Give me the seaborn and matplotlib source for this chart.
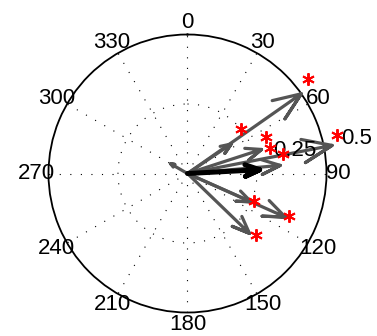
import numpy as np
import pandas as pd
import matplotlib
matplotlib.use("Agg")
import matplotlib.pyplot as plt
import matplotlib.transforms as mtransforms
import seaborn as sns

# ---- data (compass angles in degrees, clockwise from north) ----
angle_ticks = [0, 30, 60, 90, 120, 150, 180, 210, 240, 270, 300, 330]
angle_labels = ["0", "30", "60", "90", "120", "150", "180", "210", "240", "270", "300", "330"]

gray_theta = [55, 56, 72, 79, 85, 114, 114, 134, 300]
gray_r = [0.50, 0.19, 0.28, 0.53, 0.335, 0.25, 0.385, 0.31, 0.07]

black_theta = [87]
black_r = [0.26]

star_theta = [52, 50, 65, 73, 78.5, 75.5, 112, 113, 132]
star_r = [0.55, 0.25, 0.31, 0.31, 0.35, 0.555, 0.26, 0.395, 0.33]

radial_ticks = [0.25, 0.5]
radial_labels = ["0.25", "0.5"]
r_max = 0.5


def arrow_frame(thetas, rs):
    rows = []
    for k, (t, r) in enumerate(zip(thetas, rs)):
        z = r * np.exp(1j * np.deg2rad(t))
        pts = [z * 1e-9, z, z * (0.8 + 0.08j), z, z * (0.8 - 0.08j)]
        for order, p in enumerate(pts):
            rows.append({"arrow": k, "order": order,
                         "theta": np.angle(p), "r": np.abs(p)})
    return pd.DataFrame(rows)


sns.set_theme(style="white")
plt.rcParams["font.family"] = ["Liberation Sans", "DejaVu Sans"]

fig = plt.figure(figsize=(3.77, 3.36), dpi=100)
ax = fig.add_axes([0.1286, 0.0699, 0.7374, 0.8274], projection="polar")
ax.set_theta_zero_location("N")
ax.set_theta_direction(-1)
ax.set_facecolor("white")

gray_df = arrow_frame(gray_theta, gray_r)
black_df = arrow_frame(black_theta, black_r)

sns.lineplot(data=gray_df, x="theta", y="r", units="arrow", estimator=None,
             sort=False, color="#555555", linewidth=2.3, ax=ax, clip_on=False,
             zorder=3)
sns.lineplot(data=black_df, x="theta", y="r", units="arrow", estimator=None,
             sort=False, color="black", linewidth=3.6, ax=ax, clip_on=False,
             zorder=4)

ax.plot(np.deg2rad(star_theta), star_r, linestyle="none", marker=(6, 2, 0),
        markersize=9, markeredgewidth=1.4, color="red", clip_on=False, zorder=5)

ax.set_ylim(0, r_max)
ax.set_yticks([radial_ticks[0]])
ax.set_yticklabels([])
ax.set_xticks(np.deg2rad(angle_ticks))
ax.set_xticklabels(angle_labels, fontsize=16, color="black")
ax.tick_params(axis="x", length=0, pad=1.5)
ax.tick_params(axis="y", length=0)
ax.set_xlabel("")
ax.set_ylabel("")

ax.grid(True, color="black", linestyle=(0, (1, 8.5)), linewidth=0.8)
ax.spines["polar"].set_color("black")
ax.spines["polar"].set_linewidth(1.3)

trans = mtransforms.offset_copy(ax.transData, fig=fig, x=17, y=11, units="dots")
for rv, lab in zip(radial_ticks, radial_labels):
    ax.text(np.deg2rad(80), rv, lab, transform=trans, ha="left", va="center",
            fontsize=16, color="black")

fig.savefig("out.png", dpi=100, facecolor="white")
